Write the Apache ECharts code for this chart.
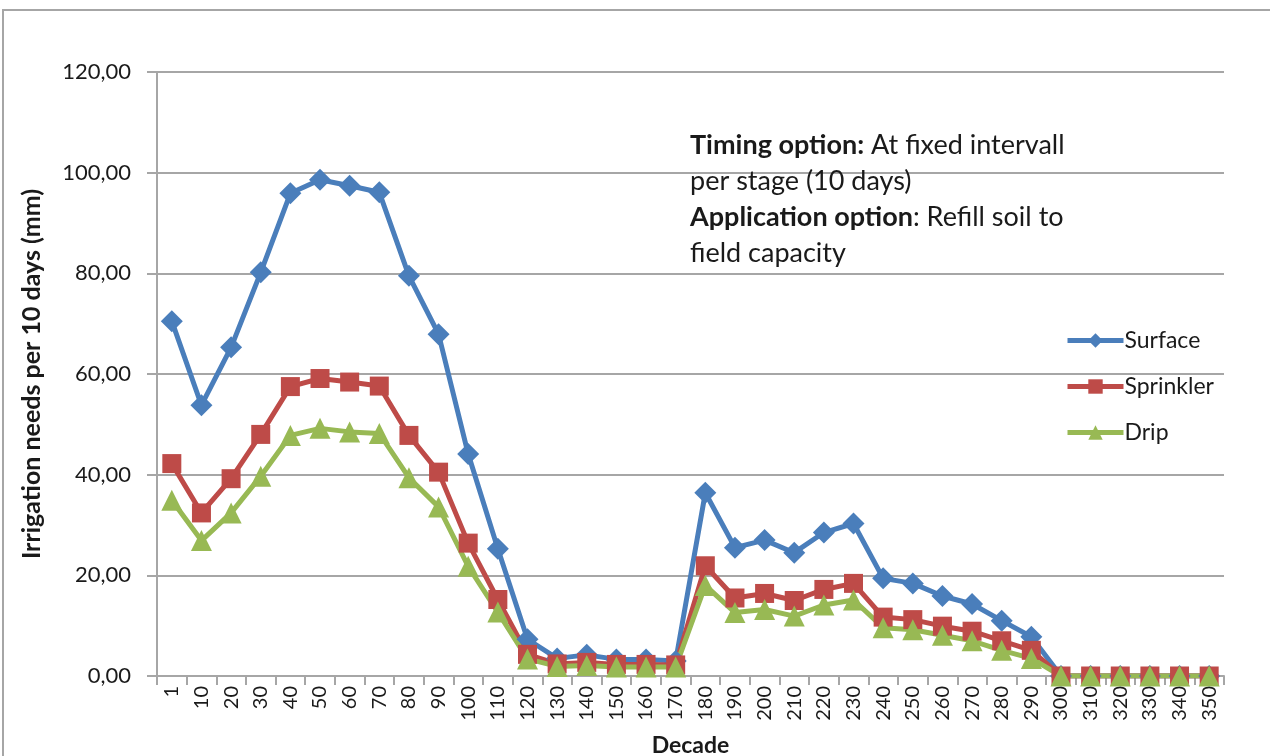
<!DOCTYPE html>
<html>
<head>
<meta charset="utf-8">
<script src="https://cdn.jsdelivr.net/npm/echarts@6/dist/echarts.min.js"></script>
<style>html,body{margin:0;padding:0;background:#fff}#c{width:1270px;height:756px}</style>
</head>
<body>
<div id="c"></div>
<script>
const categories = ['1','10','20','30','40','50','60','70','80','90','100','110','120','130','140','150','160','170','180','190','200','210','220','230','240','250','260','270','280','290','300','310','320','330','340','350'];
const surface = [70.5,53.8,65.3,80.2,95.9,98.6,97.4,96.1,79.5,67.9,44.1,25.3,7.3,3.5,4.2,3.3,3.3,3.0,36.4,25.5,27.0,24.5,28.5,30.3,19.4,18.4,15.9,14.3,11.0,7.8,0,0,0,0,0,0];
const sprinkler = [42.2,32.4,39.2,48.0,57.5,59.1,58.4,57.6,47.8,40.5,26.4,15.2,4.3,2.4,2.7,2.3,2.3,2.2,21.9,15.5,16.4,15.0,17.2,18.4,11.7,11.2,9.9,8.9,7.0,5.1,0,0,0,0,0,0];
const drip = [34.9,26.9,32.4,39.7,47.8,49.2,48.5,48.2,39.4,33.6,21.8,12.7,3.4,1.9,2.1,1.8,1.8,1.8,18.0,12.6,13.2,11.9,14.1,15.1,9.6,9.2,8.1,7.0,5.1,3.5,0,0,0,0,0,0];
const yTicks = {min:0, max:120, interval:20};

const FONT = 'Lato, "Open Sans", sans-serif';
const chart = echarts.init(document.getElementById('c'));
const gray = '#a6a6a6';
const txt = '#1a1a1a';
function mk(name, data, color, symbol, size){
  return {name, type:'line', data, symbol, symbolSize:size, showAllSymbol:true,
    lineStyle:{color, width:5}, itemStyle:{color}, emphasis:{disabled:true}, animation:false, z:3};
}
chart.setOption({
  animation:false,
  textStyle:{fontFamily:FONT},
  grid:{left:157, right:46, top:72, bottom:80, containLabel:false, outerBoundsMode:'none'},
  legend:{
    orient:'vertical', left:1060, top:324, itemGap:23, itemWidth:56, itemHeight:18,
    lineStyle:{width:5},
    textStyle:{fontFamily:FONT, fontSize:23, color:txt, padding:[0,0,0,-4]},
    data:['Surface','Sprinkler','Drip']
  },
  xAxis:{
    type:'category', data:categories, boundaryGap:true,
    name:'Decade', nameLocation:'middle', nameGap:58,
    nameTextStyle:{fontFamily:FONT, fontSize:23, fontWeight:'bold', color:txt},
    axisLine:{lineStyle:{color:gray, width:2}},
    axisTick:{show:true, interval:0, length:9, lineStyle:{color:gray, width:2}},
    axisLabel:{interval:0, rotate:90, fontFamily:FONT, fontSize:20, color:txt, margin:10},
    splitLine:{show:false}
  },
  yAxis:{
    type:'value', min:yTicks.min, max:yTicks.max, interval:yTicks.interval,
    name:'Irrigation needs per 10 days (mm)', nameLocation:'middle', nameGap:113, nameRotate:90,
    nameTextStyle:{fontFamily:FONT, fontSize:25, fontWeight:'bold', color:txt},
    axisLine:{show:true, lineStyle:{color:gray, width:2}},
    axisTick:{show:true, length:10, lineStyle:{color:gray, width:2}},
    axisLabel:{fontFamily:FONT, fontSize:22, color:txt, margin:26,
      formatter:v=>v.toFixed(2).replace('.',',')},
    splitLine:{show:true, lineStyle:{color:gray, width:2}}
  },
  graphic:[
    {type:'rect', shape:{x:3, y:10, width:1300, height:800}, style:{fill:'none', stroke:gray, lineWidth:2}, silent:true, z:-1},
    {type:'text', left:690, top:132, style:{
      rich:{b:{fontFamily:FONT, fontSize:27, fontWeight:'bold', fill:txt, lineHeight:36},
            n:{fontFamily:FONT, fontSize:27, fill:txt, lineHeight:36}},
      text:'{b|Timing option:}{n| At fixed intervall}\n{n|per stage (10 days)}\n{b|Application option}{n|: Refill soil to}\n{n|field capacity}'
    }, z:10}
  ],
  series:[
    mk('Surface', surface, '#4a7ebb', 'diamond', 22),
    mk('Sprinkler', sprinkler, '#be4b48', 'rect', 19),
    mk('Drip', drip, '#98b954', 'triangle', 21)
  ]
});
</script>
</body>
</html>
